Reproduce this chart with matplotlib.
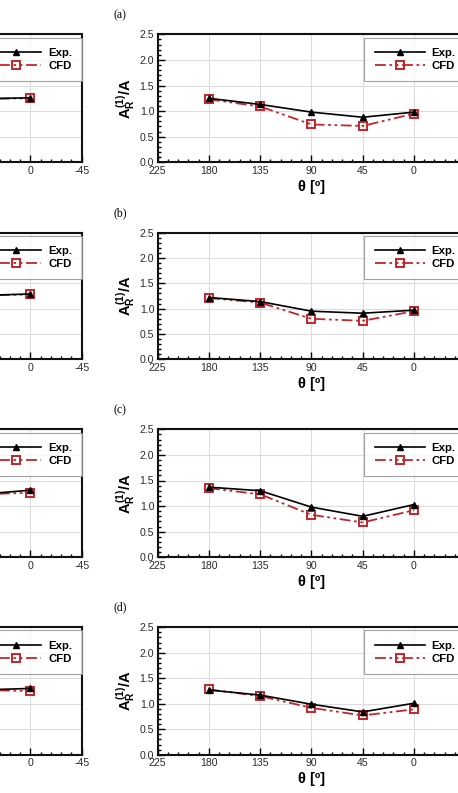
import matplotlib
matplotlib.use("Agg")
import matplotlib.pyplot as plt
from matplotlib.ticker import MultipleLocator

plt.rcParams['font.family'] = ['Liberation Sans', 'DejaVu Sans']
plt.rcParams['mathtext.fontset'] = 'custom'
plt.rcParams['mathtext.rm'] = 'Liberation Sans:bold'
plt.rcParams['mathtext.bf'] = 'Liberation Sans:bold'
plt.rcParams['mathtext.it'] = 'Liberation Sans:bold'

# ---- data ----
theta = [180, 135, 90, 45, 0]
panel_labels = ["(a)", "(b)", "(c)", "(d)"]

exp_a = [1.25, 1.13, 0.98, 0.88, 0.98]
cfd_a = [1.23, 1.09, 0.74, 0.71, 0.95]
exp_b = [1.22, 1.14, 0.95, 0.91, 0.97]
cfd_b = [1.21, 1.12, 0.80, 0.76, 0.95]
exp_c = [1.37, 1.30, 0.98, 0.80, 1.03]
cfd_c = [1.35, 1.23, 0.83, 0.68, 0.92]
exp_d = [1.27, 1.17, 0.99, 0.84, 1.01]
cfd_d = [1.28, 1.15, 0.92, 0.77, 0.89]

# left (cropped) panels: only the visible part
theta_left = [45, 0]
exp_left_a = [1.24, 1.26]
cfd_left_a = [1.24, 1.25]
exp_left_b = [1.26, 1.29]
cfd_left_b = [1.26, 1.28]
exp_left_c = [1.23, 1.31]
cfd_left_c = [1.23, 1.26]
exp_left_d = [1.27, 1.30]
cfd_left_d = [1.27, 1.25]

x_ticks = [225, 180, 135, 90, 45, 0, -45]
y_ticks = [0.0, 0.5, 1.0, 1.5, 2.0, 2.5]
x_ticks_left_visible = [0, -45]

right_exp = [exp_a, exp_b, exp_c, exp_d]
right_cfd = [cfd_a, cfd_b, cfd_c, cfd_d]
left_exp = [exp_left_a, exp_left_b, exp_left_c, exp_left_d]
left_cfd = [cfd_left_a, cfd_left_b, cfd_left_c, cfd_left_d]

W, H = 458, 793
fig = plt.figure(figsize=(W / 100, H / 100), dpi=100)

# (top, bottom) in pixels of each row
rows_px = [(34.3, 162.3), (232.7, 359.3), (429.3, 557.3), (627.3, 754.7)]
label_y_px = [15, 213, 410, 607]
right_left_px = 157.7
left_left_px = -225.8
ax_w_px = 307.5

red = '#c0262c'
cfd_ls = (0, (6, 2, 1.5, 2, 1.5, 2))


def style(ax, is_right):
    ax.set_xlim(225, -45)
    ax.set_ylim(0, 2.5)
    ax.set_xticks(x_ticks)
    ax.set_yticks(y_ticks)
    if is_right:
        ax.set_xticklabels([str(t) for t in x_ticks])
        ax.set_yticklabels([f"{t:.1f}" for t in y_ticks])
    else:
        ax.set_xticklabels([str(t) if t in x_ticks_left_visible else ''
                            for t in x_ticks])
        ax.set_yticklabels(['' for t in y_ticks])
    ax.xaxis.set_minor_locator(MultipleLocator(9))
    ax.yaxis.set_minor_locator(MultipleLocator(0.1))
    ax.tick_params(which='both', direction='in', top=False, right=False,
                   labelsize=7.6, labelcolor='#2a2a2a', width=1.0, pad=2.5)
    ax.tick_params(which='major', length=5)
    ax.tick_params(which='minor', length=2.5)
    ax.grid(True, which='major', color='#dcdcdc', linewidth=0.8)
    ax.set_axisbelow(True)
    for s in ax.spines.values():
        s.set_linewidth(1.5)
        s.set_color('#111111')
    if is_right:
        ax.set_ylabel(r"$A_R^{(1)}$/A", fontsize=10.5, fontweight='bold', labelpad=1)
        ax.set_xlabel("θ [º]", fontsize=10.5, fontweight='bold', labelpad=3)


for i, (top, bot) in enumerate(rows_px):
    b = 1 - bot / H
    h = (bot - top) / H
    for left_px, ex, cf, th, is_right in [
        (left_left_px, left_exp[i], left_cfd[i], theta_left, False),
        (right_left_px, right_exp[i], right_cfd[i], theta, True),
    ]:
        ax = fig.add_axes([left_px / W, b, ax_w_px / W, h])
        style(ax, is_right)
        ax.plot(th, ex, color='black', lw=1.2, marker='^', ms=4.8,
                mfc='black', mec='black', label='Exp.', zorder=4)
        ax.plot(th, cf, color=red, lw=1.3, ls=cfd_ls, marker='s', ms=5.6,
                mfc='none', mec=red, mew=1.4, label='CFD', zorder=3)
        leg = ax.legend(loc='upper left', bbox_to_anchor=(0.672, 0.975),
                        fancybox=False, frameon=True, edgecolor='#8a8a8a',
                        prop={'weight': 'bold', 'size': 8.2},
                        handlelength=4.4, handletextpad=0.6,
                        labelspacing=0.25, borderpad=0.9, borderaxespad=0)
        leg.get_frame().set_linewidth(0.8)
    fig.text(120 / W, 1 - label_y_px[i] / H, panel_labels[i],
             family='Liberation Serif', fontsize=8.5, ha='center', va='center')

fig.savefig("out.png", dpi=100)
